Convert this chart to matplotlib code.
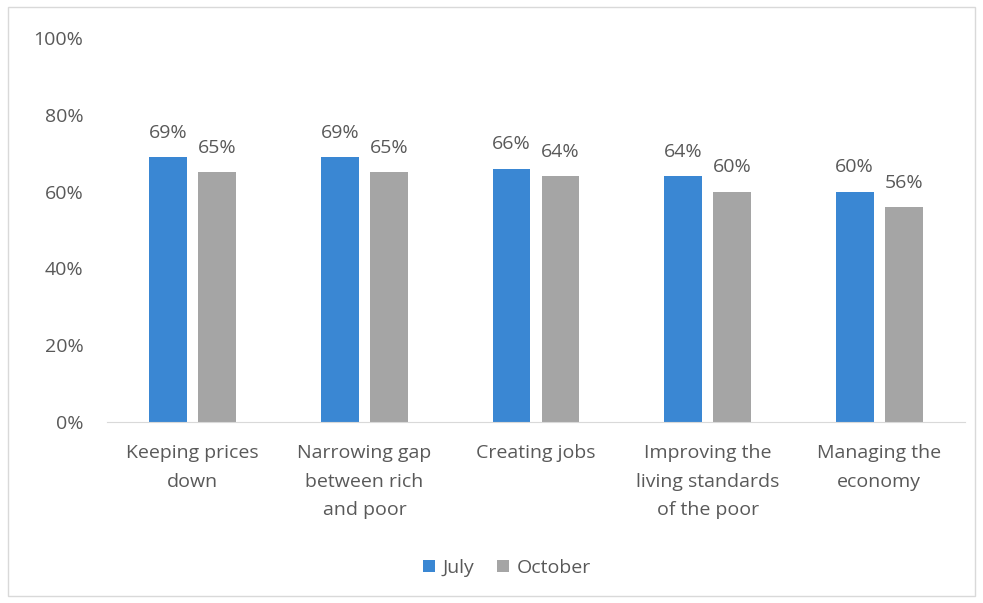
import matplotlib
matplotlib.use("Agg")
import matplotlib.pyplot as plt
import numpy as np
from matplotlib.patches import Rectangle

categories = ["Keeping prices\ndown", "Narrowing gap\nbetween rich\nand poor", "Creating jobs",
              "Improving the\nliving standards\nof the poor", "Managing the\neconomy"]
july = [69, 69, 66, 64, 60]
october = [65, 65, 64, 60, 56]
yticks = [0, 20, 40, 60, 80, 100]

plt.rcParams['font.family'] = ['Open Sans', 'DejaVu Sans']
text_color = "#595959"
blue = "#3a87d3"
gray = "#a5a5a5"
fs = 14

fig = plt.figure(figsize=(9.83, 6.03), dpi=100)
fig.patches.append(Rectangle((0.008, 0.012), 0.984, 0.976, transform=fig.transFigure,
                             fill=False, edgecolor="#d9d9d9", linewidth=1))
ax = fig.add_axes([107/983, 1-422/603, (965-107)/983, (422-38)/603])

x = np.arange(len(categories))
w = 0.22
gap = 0.065
b1 = ax.bar(x - (w+gap)/2, july, w, color=blue, label="July")
b2 = ax.bar(x + (w+gap)/2, october, w, color=gray, label="October")
for bars, vals in ((b1, july), (b2, october)):
    for r, v in zip(bars, vals):
        ax.text(r.get_x()+r.get_width()/2, v+4.0, f"{v}%", ha="center", va="bottom",
                fontsize=fs, color=text_color)

ax.set_ylim(0, 100)
ax.set_xlim(-0.5, len(categories)-0.5)
ax.set_yticks(yticks)
ax.set_yticklabels([f"{t}%" for t in yticks])
ax.set_xticks(x)
ax.set_xticklabels(categories, linespacing=1.75)
ax.tick_params(axis='both', length=0, labelsize=fs, colors=text_color)
ax.tick_params(axis='y', pad=17)
ax.tick_params(axis='x', pad=16)
for s in ("top", "right", "left"):
    ax.spines[s].set_visible(False)
ax.spines["bottom"].set_color("#d9d9d9")

ax.legend(loc="center", bbox_to_anchor=(507/983, 1-568/603), bbox_transform=fig.transFigure,
          ncol=2, frameon=False, fontsize=fs, handlelength=0.6, handleheight=0.6,
          handletextpad=0.4, columnspacing=1.2, labelcolor=text_color)

fig.savefig("out.png", dpi=100)
